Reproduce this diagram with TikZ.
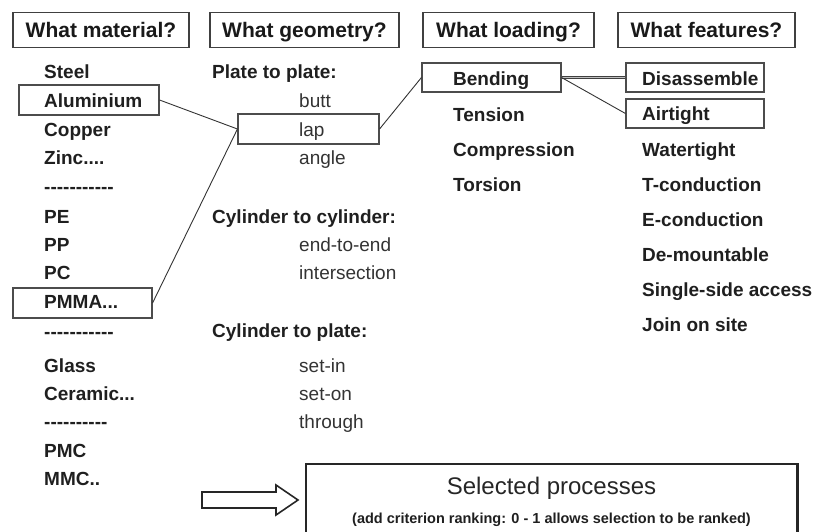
\documentclass[tikz,border=0pt]{standalone}
\usepackage{fontspec}
\setmainfont{Liberation Sans}[Ligatures=TeXOff]
\begin{document}
\begin{tikzpicture}[x=1pt,y=-1pt,
  hdr/.style={draw=black!75, line width=1.1pt, minimum height=35pt, inner sep=0pt,
    font=\fontsize{21}{25}\selectfont\bfseries, text=black!90, text height=15pt, text depth=0pt},
  itm/.style={anchor=west, inner sep=0pt, font=\fontsize{19}{22}\selectfont\bfseries,
    text=black!88, text height=13.6pt, text depth=0pt},
  sub/.style={anchor=west, inner sep=0pt, font=\fontsize{19}{22}\selectfont,
    text=black!80, text height=13.6pt, text depth=0pt},
  selbox/.style={draw=black!70, line width=1.1pt, inner sep=0pt},
  link/.style={draw=black!80, line width=0.9pt}]

\useasboundingbox (0,0) rectangle (816,531);

% headers
\node[hdr, minimum width=176pt] (hmat)  at (101,30)   {What material?};
\node[hdr, minimum width=189pt] (hgeo)  at (304.5,30) {What geometry?};
\node[hdr, minimum width=171pt] (hload) at (508.5,30) {What loading?};
\node[hdr, minimum width=177pt] (hfeat) at (706.5,30) {What features?};

% selection boxes
\node[selbox, minimum width=140pt, minimum height=30pt] (alubox)  at (89,100)     {};
\node[selbox, minimum width=139pt, minimum height=30pt] (pmmabox) at (82.5,303)   {};
\node[selbox, minimum width=141pt, minimum height=30pt] (lapbox)  at (308.5,129)  {};
\node[selbox, minimum width=139pt, minimum height=29pt] (bendbox) at (491.5,77.5) {};
\node[selbox, minimum width=138pt, minimum height=29pt] (disbox)  at (695,77.5)   {};
\node[selbox, minimum width=138pt, minimum height=29pt] (airbox)  at (695,113.5)  {};

% material column
\node[itm] (steel) at (44,72)  {Steel};
\node[itm] (alu)   at (44,101) {Aluminium};
\node[itm] (cu)    at (44,130) {Copper};
\node[itm] (zn)    at (44,158) {Zinc....};
\node[itm] (d1)    at (44,187) {-----------};
\node[itm] (pe)    at (44,217) {PE};
\node[itm] (pp)    at (44,245) {PP};
\node[itm] (pc)    at (44,273) {PC};
\node[itm] (pmma)  at (44,302) {PMMA...};
\node[itm] (d2)    at (44,332) {-----------};
\node[itm] (glass) at (44,366) {Glass};
\node[itm] (cer)   at (44,394) {Ceramic...};
\node[itm] (d3)    at (44,422) {----------};
\node[itm] (pmc)   at (44,451) {PMC};
\node[itm] (mmc)   at (44,479) {MMC..};

% geometry column
\node[itm] (pp2p)  at (212,72)  {Plate to plate:};
\node[sub] (butt)  at (299,101) {butt};
\node[sub] (lap)   at (299,130) {lap};
\node[sub] (angle) at (299,158) {angle};
\node[itm] (c2c)   at (212,217) {Cylinder to cylinder:};
\node[sub] (e2e)   at (299,245) {end-to-end};
\node[sub] (inter) at (299,273) {intersection};
\node[itm] (c2p)   at (212,331) {Cylinder to plate:};
\node[sub] (setin) at (299,366) {set-in};
\node[sub] (seton) at (299,394) {set-on};
\node[sub] (thru)  at (299,422) {through};

% loading column
\node[itm] (bend)  at (453,79)  {Bending};
\node[itm] (tens)  at (453,115) {Tension};
\node[itm] (comp)  at (453,150) {Compression};
\node[itm] (tors)  at (453,185) {Torsion};

% features column
\node[itm] (dis)   at (642,79)  {Disassemble};
\node[itm] (air)   at (642,114) {Airtight};
\node[itm] (water) at (642,150) {Watertight};
\node[itm] (tcond) at (642,185) {T-conduction};
\node[itm] (econd) at (642,220) {E-conduction};
\node[itm] (demnt) at (642,255) {De-mountable};
\node[itm] (ssa)   at (642,290) {Single-side access};
\node[itm] (jos)   at (642,325) {Join on site};

% connectors
\draw[link] (alubox.east) -- (lapbox.west);
\draw[link] (pmmabox.east) -- (lapbox.west);
\draw[link] (lapbox.east) -- (bendbox.west);
\draw[draw=black!75, line width=0.7pt, double=black!25, double distance=1.2pt] (bendbox.east) -- (disbox.west);
\draw[link] (bendbox.east) -- (airbox.west);

% hollow block arrow
\draw[line width=1.6pt, black!85, line join=miter]
  (202,492) -- (276,492) -- (276,485) -- (298,500) -- (276,515) -- (276,508) -- (202,508) -- cycle;

% selected processes box (open at the bottom)
\node[minimum width=491pt, minimum height=80pt, inner sep=0pt] (selbox) at (551.5,504) {};
\draw[line width=2.6pt, black!85] (selbox.south west) -- (selbox.north west) -- (selbox.north east) -- (selbox.south east);
\node[inner sep=0pt, font=\fontsize{24}{28}\selectfont, text=black!85, text height=17pt, text depth=0pt] (selt) at (551.5,486) {Selected processes};
\node[inner sep=0pt, font=\fontsize{14.5}{17}\selectfont\bfseries, text=black!88, text height=10.4pt, text depth=0pt] (selsub) at (551.5,518) {(add criterion ranking: 0 - 1 allows selection to be ranked)};
\end{tikzpicture}
\end{document}
